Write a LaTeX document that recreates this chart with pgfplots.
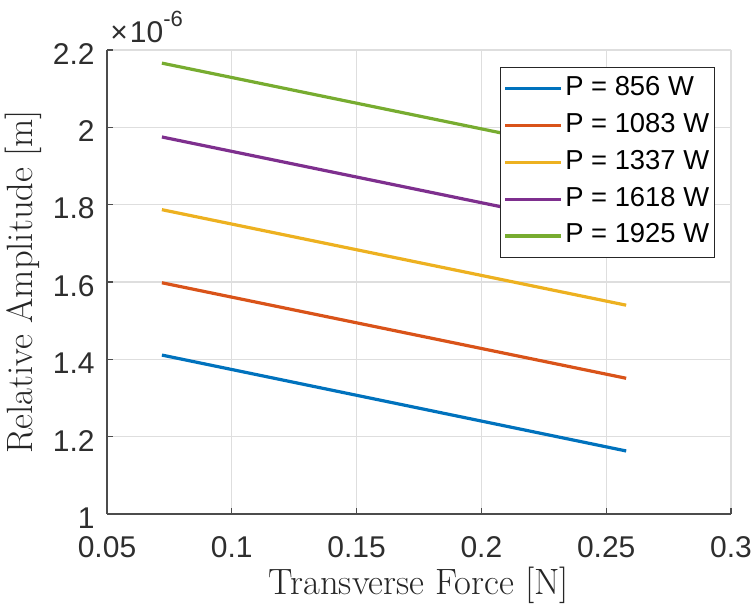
\documentclass[border=0pt]{standalone}
\usepackage{fontspec}
\newfontfamily\arial{Liberation Sans}
\usepackage{pgfplots}
\pgfplotsset{compat=1.18}
\definecolor{mb}{rgb}{0,0.447,0.741}
\definecolor{mo}{rgb}{0.85,0.325,0.098}
\definecolor{my}{rgb}{0.929,0.694,0.125}
\definecolor{mp}{rgb}{0.494,0.184,0.556}
\definecolor{mg}{rgb}{0.466,0.674,0.188}
\definecolor{axc}{rgb}{0.3,0.3,0.3}
\definecolor{grc}{rgb}{0.87,0.87,0.87}
\begin{document}
\begin{tikzpicture}
\begin{axis}[
  scale only axis,
  width=312pt, height=232pt,
  xmin=0.05, xmax=0.3, ymin=1, ymax=2.2,
  xtick={0.05,0.1,0.15,0.2,0.25,0.3},
  ytick={1,1.2,1.4,1.6,1.8,2,2.2},
  scaled x ticks=false, scaled y ticks=false,
  axis x line*=bottom, axis y line*=left,
  axis line style={axc, line width=0.6pt, -},
  tick style={axc, line width=0.6pt},
  tick align=inside,
  major tick length=3pt,
  grid=major,
  major grid style={grc, line width=0.6pt},
  /pgf/number format/assume math mode=true,
  xticklabel style={font=\arial\fontsize{15}{17}\selectfont, text=black!82, anchor=base, inner sep=0pt, yshift=-21.5pt, /pgf/number format/fixed, /pgf/number format/precision=2},
  yticklabel style={font=\arial\fontsize{15}{17}\selectfont, text=black!82, anchor=east, inner sep=0pt, xshift=-6pt, yshift=-2pt, /pgf/number format/fixed, /pgf/number format/precision=1},
  xlabel={Transverse Force [N]},
  ylabel={Relative Amplitude [m]},
  xlabel style={font=\fontsize{18.3}{21}\selectfont, text=black!85, at={(axis description cs:0.5,0)}, anchor=base, yshift=-40pt},
  ylabel style={font=\fontsize{18.3}{21}\selectfont, text=black!85, at={(axis description cs:-0.1186,0.5)}, anchor=base},
  legend style={at={(rel axis cs:1,1)}, anchor=north east, xshift=-8pt, yshift=-8.5pt,
    font=\arial\fontsize{13.7}{16}\selectfont, draw=black!85, fill=white,
    inner sep=1.5pt, row sep=0pt,
    nodes={inner sep=1.2pt, text height=11.5pt, text depth=4.5pt}},
  legend cell align=left,
  legend image code/.code={\draw[#1] (0pt,0pt) -- (28pt,0pt);},
  every axis plot/.append style={line width=1.6pt},
  clip=false,
]
\addplot[mb] coordinates {(0.072,1.411) (0.258,1.163)};
\addplot[mo] coordinates {(0.072,1.598) (0.258,1.351)};
\addplot[my] coordinates {(0.072,1.787) (0.258,1.540)};
\addplot[mp] coordinates {(0.072,1.975) (0.258,1.728)};
\addplot[mg] coordinates {(0.072,2.166) (0.258,1.919)};
\legend{P = 856 W, P = 1083 W, P = 1337 W, P = 1618 W, P = 1925 W}
\node[anchor=base west, inner sep=0pt, font=\arial\fontsize{15}{17}\selectfont, text=black!82] at ([xshift=1.5pt, yshift=3.5pt]rel axis cs:0,1) {×\kern1pt10\raisebox{0.55em}{\fontsize{11}{13}\selectfont -6}};
\coordinate (bl) at (rel axis cs:0,0);
\coordinate (tr) at (rel axis cs:1,1);
\end{axis}
\pgfresetboundingbox
\path ([xshift=-53.5pt, yshift=-46.5pt]bl) rectangle ([xshift=12.5pt, yshift=25pt]tr);
\end{tikzpicture}
\end{document}
